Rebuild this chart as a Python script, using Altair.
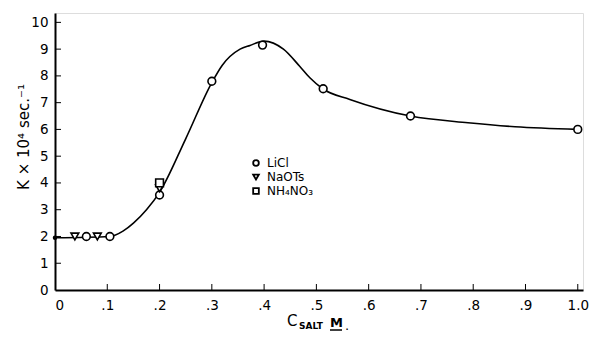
import altair as alt
import pandas as pd

# Smooth fitted curve
curve_x = [0, 0.105, 0.13, 0.15, 0.175, 0.2, 0.25, 0.30, 0.32, 0.354, 0.373, 0.40, 0.437, 0.468, 0.488, 0.512, 0.564, 0.68, 0.79, 0.88, 1.0]
curve_y = [1.95, 2.0, 2.2, 2.5, 3.0, 3.65, 5.65, 7.75, 8.4, 9.0, 9.14, 9.3, 9.0, 8.36, 7.92, 7.52, 7.12, 6.5, 6.25, 6.1, 6.0]

# Measured points
licl_x = [0.06, 0.105, 0.2, 0.3, 0.397, 0.513, 0.68, 1.0]
licl_y = [2.0, 2.0, 3.55, 7.8, 9.15, 7.52, 6.5, 6.0]
naots_x = [0.038, 0.081, 0.2]
naots_y = [2.0, 2.0, 3.8]
nh4_x = [0.2]
nh4_y = [4.0]
origin_x = [0]
origin_y = [1.95]

salts = ["LiCl", "NaOTs", "NH\u2084NO\u2083"]
shapes = ["circle", "triangle-down", "square"]

x_ticks = [0, 0.1, 0.2, 0.3, 0.4, 0.5, 0.6, 0.7, 0.8, 0.9, 1.0]
y_ticks = [0, 1, 2, 3, 4, 5, 6, 7, 8, 9, 10]

y_title = "K \u00d7 10\u2074 sec.\u207b\u00b9"

W, H = 528, 277
FONT = "DejaVu Sans"

curve = pd.DataFrame({"x": curve_x, "y": curve_y})
pts = pd.DataFrame({
    "x": licl_x + naots_x + nh4_x,
    "y": licl_y + naots_y + nh4_y,
    "salt": [salts[0]] * len(licl_x) + [salts[1]] * len(naots_x) + [salts[2]] * len(nh4_x),
})
origin = pd.DataFrame({"x": origin_x, "y": origin_y})
xt = pd.DataFrame({"x": x_ticks[1:]})
yt = pd.DataFrame({"y": y_ticks[1:]})

xscale = alt.Scale(domain=[0, 1.01], nice=False)
yscale = alt.Scale(domain=[0, 10.35], nice=False)

xaxis = alt.Axis(values=x_ticks, grid=False, tickSize=0, labelPadding=8, labelOverlap=False,
                 labelExpr="datum.value == 0 ? '0' : datum.value == 1 ? '1.0' : replace(format(datum.value, '.1f'), '0.', '.')",
                 domainColor="black", domainWidth=2, labelFont=FONT, labelFontSize=13.5,
                 labelColor="black", title=None)
yaxis = alt.Axis(values=y_ticks, grid=False, tickSize=0, labelPadding=7, labelOverlap=False,
                 domainColor="black", domainWidth=2, labelFont=FONT, labelFontSize=13.5,
                 labelColor="black", title=None)

X = alt.X("x:Q", scale=xscale, axis=xaxis)
Y = alt.Y("y:Q", scale=yscale, axis=yaxis)

line = alt.Chart(curve).mark_line(color="black", strokeWidth=1.6, interpolate="monotone").encode(x=X, y=Y)

points = alt.Chart(pts).mark_point(filled=False, fill="white", fillOpacity=1, stroke="black",
                                   strokeWidth=1.6, size=60, opacity=1).encode(
    x=X, y=Y,
    shape=alt.Shape("salt:N", scale=alt.Scale(domain=salts, range=shapes), legend=None),
)

dot = alt.Chart(origin).mark_circle(color="black", size=20, opacity=1).encode(x=X, y=Y)

xtick = alt.Chart(xt).mark_rule(color="black", strokeWidth=1).encode(
    x=X, y=alt.value(H), y2=alt.value(H - 6))
ytick = alt.Chart(yt).mark_rule(color="black", strokeWidth=1).encode(
    y=Y, x=alt.value(0), x2=alt.value(6))

# Manual legend
legend_layers = []
for i, (name, shp) in enumerate(zip(salts, shapes)):
    ldf = pd.DataFrame({"salt": [name]})
    legend_layers.append(
        alt.Chart(ldf).mark_point(shape=shp, filled=False, fill="white", fillOpacity=1, stroke="black",
                                  strokeWidth=1.8, size=32, opacity=1).encode(
            x=alt.value(201), y=alt.value(150 + 14 * i)))
    legend_layers.append(
        alt.Chart(ldf).mark_text(font=FONT, fontSize=12, color="black", align="left", baseline="middle").encode(
            text="salt:N", x=alt.value(212), y=alt.value(150 + 14 * i)))

title_df = pd.DataFrame({"t": [y_title]})
t_y = alt.Chart(title_df).mark_text(font=FONT, fontSize=15, color="black", angle=270,
                                    align="center", baseline="middle").encode(
    text="t:N", x=alt.value(-31), y=alt.value(124))
t_c = alt.Chart(title_df).mark_text(text="C", font=FONT, fontSize=15, color="black", align="left", baseline="alphabetic").encode(
    x=alt.value(232), y=alt.value(H + 36))
t_salt = alt.Chart(title_df).mark_text(text="SALT", font=FONT, fontSize=9, fontWeight="bold", color="black", align="left", baseline="alphabetic").encode(
    x=alt.value(244), y=alt.value(H + 39))
t_m = alt.Chart(title_df).mark_text(text="M", font=FONT, fontSize=13, fontWeight="bold", color="black", align="left", baseline="alphabetic").encode(
    x=alt.value(275), y=alt.value(H + 37))
t_dot = alt.Chart(title_df).mark_text(text=".", font=FONT, fontSize=13, color="black", align="left", baseline="alphabetic").encode(
    x=alt.value(290), y=alt.value(H + 40))
t_ul = alt.Chart(title_df).mark_rule(color="black", strokeWidth=1.5).encode(
    x=alt.value(275), x2=alt.value(287), y=alt.value(H + 40))

chart = alt.layer(line, points, dot, xtick, ytick, *legend_layers, t_y, t_c, t_salt, t_m, t_dot, t_ul).properties(
    width=W, height=H,
    autosize=alt.AutoSizeParams(type="none"),
    padding={"left": 47, "top": 5, "right": 6, "bottom": 45},
).configure_view(stroke=None).configure(background="white")

chart.save("out.html", embed_options={"renderer": "svg", "actions": False})
